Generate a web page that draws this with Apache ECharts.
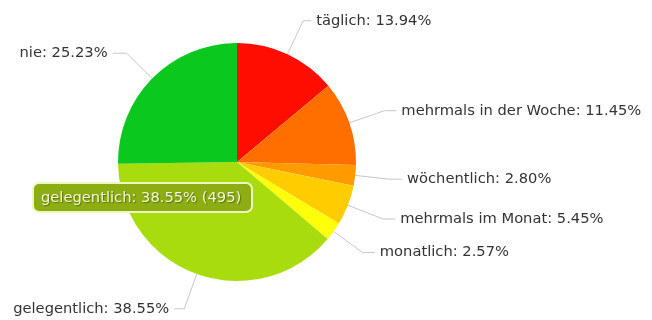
<!DOCTYPE html>
<html>
<head>
<meta charset="utf-8">
<script src="https://cdn.jsdelivr.net/npm/echarts@6/dist/echarts.min.js"></script>
<style>
  html, body { margin: 0; padding: 0; background: #ffffff; }
  #chart { width: 652px; height: 320px; }
</style>
</head>
<body>
<div id="chart"></div>
<script>
// Antworten: Häufigkeit (Anzahl Nennungen)
const categories = ['täglich', 'mehrmals in der Woche', 'wöchentlich', 'mehrmals im Monat', 'monatlich', 'gelegentlich', 'nie'];
const counts = [179, 147, 36, 70, 33, 495, 324];
const colors = ['#ff0d00', '#ff6f00', '#ff9a00', '#ffcc00', '#ffff0a', '#a9dc0c', '#0ac81e'];

// Führungslinien je Segment (Länge radial, Länge horizontal)
const guideLength = [37, 37, 34, 38, 36, 37, 36];
const guideLength2 = [8, 12, 13, 12, 12, 10, 14];

// hervorgehobenes Segment mit Infobox
const highlighted = 5;

const total = counts.reduce((a, b) => a + b, 0);
const pct = counts.map(v => v / total * 100);

const chart = echarts.init(document.getElementById('chart'), null, { renderer: 'canvas' });

const data = categories.map((name, i) => ({
  name: name,
  value: counts[i],
  itemStyle: { color: colors[i] },
  labelLine: { length: guideLength[i], length2: guideLength2[i] }
}));

const tipText = categories[highlighted] + ': ' + pct[highlighted].toFixed(2) + '% (' + counts[highlighted] + ')';

chart.setOption({
  animation: false,
  backgroundColor: '#ffffff',
  series: [{
    type: 'pie',
    center: [237, 162],
    radius: 119,
    startAngle: 90,
    clockwise: true,
    avoidLabelOverlap: false,
    data: data,
    itemStyle: { borderWidth: 0 },
    label: {
      show: true,
      position: 'outside',
      alignTo: 'none',
      distanceToLabelLine: 5,
      padding: [6, 0, 0, 0],
      formatter: p => p.name + ': ' + pct[p.dataIndex].toFixed(2) + '%',
      fontFamily: 'DejaVu Sans',
      fontSize: 14.7,
      color: '#333333'
    },
    labelLine: {
      show: true,
      smooth: false,
      lineStyle: { color: '#c8c8c8', width: 1 }
    },
    emphasis: { disabled: true }
  }],
  graphic: [{
    type: 'group',
    left: 32,
    top: 182,
    z: 100,
    children: [{
      type: 'rect',
      z: 100,
      shape: { x: 0, y: 0, width: 219, height: 29, r: 6 },
      style: { fill: '#8cae12', stroke: '#eef6c2', lineWidth: 2 }
    }, {
      type: 'text',
      z: 101,
      x: 8,
      y: 15,
      style: {
        text: tipText,
        fill: '#f2f7d8',
        font: '14.7px "DejaVu Sans"',
        verticalAlign: 'middle',
        textShadowColor: 'rgba(60,70,0,0.6)',
        textShadowBlur: 1,
        textShadowOffsetX: 1,
        textShadowOffsetY: 1
      }
    }]
  }]
});
</script>
</body>
</html>
